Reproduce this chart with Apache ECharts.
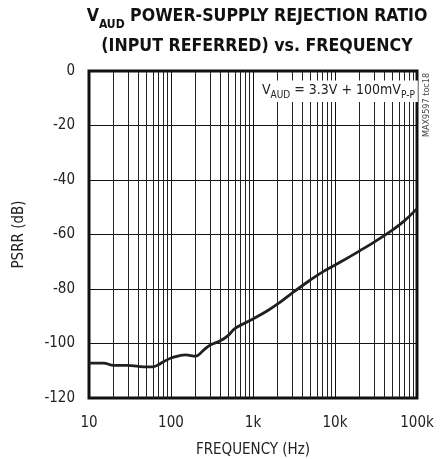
<!DOCTYPE html>
<html>
<head>
<meta charset="utf-8">
<script src="https://cdn.jsdelivr.net/npm/echarts@6/dist/echarts.min.js"></script>
<style>
  html, body { margin: 0; padding: 0; background: #fff; }
  #chart { width: 440px; height: 459px; }
</style>
</head>
<body>
<div id="chart"></div>
<script>
const freq = [10, 15, 20, 30, 40, 50, 60, 70, 80, 100, 130, 150, 200, 250, 300, 400, 500, 600, 800,
  1000, 1500, 2000, 3000, 5000, 7000, 10000, 15000, 20000, 30000, 50000, 70000, 100000];
const psrr = [-107.2, -107.2, -108, -108, -108.4, -108.6, -108.6, -107.8, -106.8, -105.3, -104.4, -104.2, -104.6,
  -102.4, -100.6, -99, -97, -94.5, -92.5, -91, -88, -85.5, -81.5, -76.7, -73.8, -71.2, -68.2, -66, -62.8,
  -58.4, -55, -50.5];
const minorFreq = [20, 30, 40, 50, 60, 70, 80, 90, 200, 300, 400, 500, 600, 700, 800, 900,
  2000, 3000, 4000, 5000, 6000, 7000, 8000, 9000, 20000, 30000, 40000, 50000, 60000, 70000, 80000, 90000];
const xTickLabels = { 10: '10', 100: '100', 1000: '1k', 10000: '10k', 100000: '100k' };

const font = "'DejaVu Sans Condensed', 'Liberation Sans Narrow', 'Liberation Sans', sans-serif";
const chart = echarts.init(document.getElementById('chart'));

chart.setOption({
  animation: false,
  title: [{
    text: '{b|V}{s|AUD}{b| POWER-SUPPLY REJECTION RATIO}\n{b|(INPUT REFERRED) vs. FREQUENCY}',
    left: 252, top: -4, textAlign: 'center',
    textStyle: {
      rich: {
        b: { fontFamily: font, fontWeight: 'bold', fontSize: 17.6, color: '#111', lineHeight: 30 },
        s: { fontFamily: font, fontWeight: 'bold', fontSize: 12, color: '#111', verticalAlign: 'bottom', lineHeight: 22 }
      }
    }
  }, {
    text: '{n|V}{s|AUD}{n| = 3.3V + 100mV}{s|P-P}',
    left: 259, top: 78,
    backgroundColor: '#fff',
    padding: [3, 3, 2, 3],
    textStyle: {
      fontWeight: 'normal',
      rich: {
        n: { fontFamily: font, fontWeight: 'normal', fontSize: 14, color: '#222', lineHeight: 19 },
        s: { fontFamily: font, fontWeight: 'normal', fontSize: 10, color: '#222', verticalAlign: 'bottom', lineHeight: 13 }
      }
    }
  }],
  graphic: [{
    type: 'text', x: 422, y: 137, rotation: Math.PI / 2, z: 100,
    style: { text: 'MAX9597 toc18', font: "9px " + font, fill: '#444' }
  }],
  grid: {
    left: 89, top: 71, right: 23, bottom: 61, outerBoundsMode: 'none',
    show: true, borderColor: '#111', borderWidth: 3, backgroundColor: 'transparent'
  },
  xAxis: {
    type: 'log', logBase: 10, min: 10, max: 100000,
    name: 'FREQUENCY (Hz)', nameLocation: 'middle', nameGap: 45,
    nameTextStyle: { fontFamily: font, fontSize: 15, color: '#222' },
    axisLine: { show: false }, axisTick: { show: false },
    axisLabel: { fontFamily: font, fontSize: 15, color: '#222', margin: 18, formatter: v => xTickLabels[Math.round(v)] || '' },
    splitLine: { show: true, lineStyle: { color: '#111', width: 1 } }
  },
  yAxis: {
    type: 'value', min: -120, max: 0, interval: 20,
    name: 'PSRR (dB)', nameLocation: 'middle', nameGap: 62,
    nameTextStyle: { fontFamily: font, fontSize: 15, color: '#222' },
    axisLine: { show: false }, axisTick: { show: false },
    axisLabel: { fontFamily: font, fontSize: 15, color: '#222', margin: 14 },
    splitLine: { show: true, lineStyle: { color: '#111', width: 1 } }
  },
  series: [{
    type: 'line', data: freq.map((f, i) => [f, psrr[i]]),
    showSymbol: false, smooth: 0.4,
    lineStyle: { color: '#231f20', width: 2.8 },
    markLine: {
      silent: true, symbol: 'none', label: { show: false }, z: 1,
      lineStyle: { color: '#222', width: 1, type: 'solid' },
      data: minorFreq.map(f => ({ xAxis: f }))
    },
    z: 5
  }]
});
</script>
</body>
</html>
